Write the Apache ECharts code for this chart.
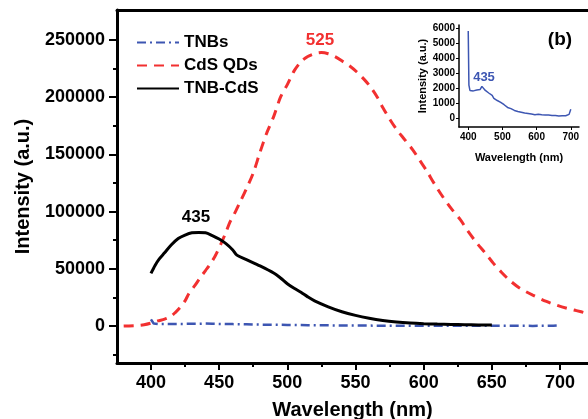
<!DOCTYPE html>
<html>
<head>
<meta charset="utf-8">
<script src="https://cdn.jsdelivr.net/npm/echarts@6/dist/echarts.min.js"></script>
<style>
  html, body { margin: 0; padding: 0; background: #fff; }
  #chart { width: 588px; height: 419px; }
</style>
</head>
<body>
<div id="chart"></div>
<script>
// TNBs (also shown in the inset)
const tnbWave = [400, 402, 405, 410, 415, 420, 425, 430, 435, 440, 445, 450, 455, 460, 465, 470, 475, 480, 485, 490,
  495, 500, 505, 510, 515, 520, 525, 530, 535, 540, 545, 550, 555, 560, 565, 570, 575, 580, 585, 590,
  595, 600, 605, 610, 615, 620, 625, 630, 635, 640, 645, 650, 655, 660, 665, 670, 675, 680, 685, 690, 695, 700]
const tnbIntensity = [5800, 2200, 1850, 1880, 1820, 1900, 1880, 1950, 1920, 2120, 2000, 1850, 1750, 1680, 1600, 1520, 1330, 1250, 1180, 1100,
  1060, 980, 900, 820, 720, 680, 640, 590, 520, 480, 450, 420, 400, 370, 350, 330, 320, 290, 280, 250,
  240, 230, 260, 210, 230, 200, 220, 190, 210, 170, 190, 160, 180, 170, 150, 180, 160, 130, 170, 150, 260, 600]

// CdS QDs
const cdsWave = [380, 390, 395, 400, 405, 410, 414, 418, 421, 425, 428, 432, 436, 440, 443, 447, 451, 455, 458, 462,
  465, 470, 475, 480, 485, 490, 495, 500, 505, 510, 515, 520, 525, 530, 535, 541, 546, 551, 556, 561,
  566, 570, 575, 580, 586, 592, 597, 602, 608, 614, 620, 627, 633, 639, 645, 651, 657, 663, 670, 680,
  690, 698, 705, 712, 720]
const cdsIntensity = [0, 500, 1200, 2600, 4500, 6000, 8000, 12000, 15700, 22000, 28800, 35000, 42000, 48500, 53300, 61000, 71000, 82000, 91000, 100000,
  107500, 120000, 133700, 152000, 169000, 183000, 200000, 211000, 223000, 231000, 235500, 238000, 239000, 238000, 235500, 231000, 227000, 222000, 216000, 209000,
  200000, 191000, 181000, 172000, 163000, 154000, 145000, 136000, 124000, 113000, 103000, 92700, 82000, 72500, 64000, 55000, 47000, 40000, 33500, 27000,
  21500, 18000, 15500, 13500, 11000]

// TNB-CdS
const hybridWave = [400, 403, 406, 410, 415, 420, 425, 430, 435, 440, 445, 450, 455, 460, 463, 470, 480, 490, 495, 500,
  505, 510, 515, 520, 530, 540, 550, 560, 570, 580, 590, 600, 610, 620, 630, 640, 650]
const hybridIntensity = [46000, 53000, 58500, 64000, 71000, 76500, 79500, 81500, 81800, 81500, 79000, 76000, 72000, 66500, 62000, 58000, 52500, 46300, 42000, 37000,
  33000, 29500, 25500, 22000, 16800, 12500, 9300, 6800, 4900, 3600, 2700, 2100, 1700, 1400, 1200, 1000, 900]

// tick labels
const xTicks = [400, 450, 500, 550, 600, 650, 700]
const xMinorTicks = [425, 475, 525, 575, 625, 675]
const yTicks = [0, 50000, 100000, 150000, 200000, 250000]
const yMinorTicks = [-25000, 25000, 75000, 125000, 175000, 225000]
const insetXTicks = [400, 500, 600, 700]
const insetYTicks = [0, 1000, 2000, 3000, 4000, 5000, 6000]

const pairs = (xs, ys) => xs.map((x, i) => [x, ys[i]])
const plain = (v) => String(v)

const font = "'Liberation Sans', Arial, sans-serif"
const blue = '#3d56b2'
const red = '#f23030'
const clear = 'rgba(0,0,0,0)'
const xRange = { min: 375.1, max: 720.5 }
const yRange = { min: -32300, max: 276200 }

const chart = echarts.init(document.getElementById('chart'))

const mainRect = { left: 117, right: 0, top: 10, bottom: 56, outerBoundsMode: 'none', containLabel: false }

const option = {
  animation: false,
  backgroundColor: '#fff',
  grid: [
    mainRect,
    { left: 459, width: 120, top: 25, height: 102, outerBoundsMode: 'none', containLabel: false },
    //次刻度用，与主图重合
    { ...mainRect },
  ],
  xAxis: [
    { gridIndex: 0, type: 'value', ...xRange, position: 'bottom',
      axisLine: { onZero: false, lineStyle: { color: '#000', width: 3 } },
      axisTick: { customValues: xTicks, length: 7, lineStyle: { color: '#000', width: 2 } },
      axisLabel: { customValues: xTicks, formatter: plain, margin: 11, color: '#000', fontSize: 18, fontWeight: 'bold', fontFamily: font },
      splitLine: { show: false },
      name: 'Wavelength (nm)', nameLocation: 'middle', nameGap: 37,
      nameTextStyle: { color: '#000', fontSize: 20, fontWeight: 'bold', fontFamily: font } },
    //上边框
    { gridIndex: 0, type: 'value', ...xRange, position: 'top',
      axisLine: { onZero: false, lineStyle: { color: '#000', width: 3 } },
      axisTick: { show: false }, axisLabel: { show: false }, splitLine: { show: false } },
    //插图
    { gridIndex: 1, type: 'value', min: 373, max: 724,
      axisLine: { onZero: false, lineStyle: { color: '#000', width: 1.5 } },
      axisTick: { customValues: insetXTicks, length: 3, lineStyle: { color: '#000', width: 1 } },
      axisLabel: { customValues: insetXTicks, formatter: plain, margin: 5, color: '#000', fontSize: 10, fontWeight: 'bold', fontFamily: font },
      splitLine: { show: false },
      name: 'Wavelength (nm)', nameLocation: 'middle', nameGap: 25,
      nameTextStyle: { color: '#000', fontSize: 11, fontWeight: 'bold', fontFamily: font } },
    //次刻度
    { gridIndex: 2, type: 'value', ...xRange, position: 'bottom',
      axisLine: { show: false, onZero: false }, axisLabel: { show: false }, splitLine: { show: false },
      axisTick: { show: true, customValues: xMinorTicks, length: 4, lineStyle: { color: '#000', width: 2 } } },
  ],
  yAxis: [
    { gridIndex: 0, type: 'value', ...yRange, position: 'left',
      axisLine: { onZero: false, lineStyle: { color: '#000', width: 3 } },
      axisTick: { customValues: yTicks, length: 8, lineStyle: { color: '#000', width: 2 } },
      axisLabel: { customValues: yTicks, formatter: plain, margin: 12, color: '#000', fontSize: 18, fontWeight: 'bold', fontFamily: font },
      splitLine: { show: false },
      name: 'Intensity (a.u.)', nameLocation: 'middle', nameGap: 84,
      nameTextStyle: { color: '#000', fontSize: 20, fontWeight: 'bold', fontFamily: font } },
    { gridIndex: 1, type: 'value', min: -580, max: 6200,
      axisLine: { onZero: false, lineStyle: { color: '#000', width: 1.5 } },
      axisTick: { customValues: insetYTicks, length: 3, lineStyle: { color: '#000', width: 1 } },
      axisLabel: { customValues: insetYTicks, formatter: plain, margin: 4, color: '#000', fontSize: 10, fontWeight: 'bold', fontFamily: font },
      splitLine: { show: false },
      name: 'Intensity (a.u.)', nameLocation: 'middle', nameGap: 31,
      nameTextStyle: { color: '#000', fontSize: 11, fontWeight: 'bold', fontFamily: font } },
    { gridIndex: 2, type: 'value', ...yRange, position: 'left',
      axisLine: { show: false, onZero: false }, axisLabel: { show: false }, splitLine: { show: false },
      axisTick: { show: true, customValues: yMinorTicks, length: 4, lineStyle: { color: '#000', width: 2 } } },
  ],
  legend: {
    left: 131, top: 29, orient: 'vertical', itemGap: 6, itemWidth: 42, itemHeight: 16,
    textStyle: { color: '#000', fontSize: 17, fontWeight: 'bold', fontFamily: font },
    data: ['TNBs', 'CdS QDs', 'TNB-CdS'],
  },
  series: [
    { name: 'TNBs', type: 'line', xAxisIndex: 0, yAxisIndex: 0, symbol: 'none',
      data: pairs(tnbWave, tnbIntensity),
      lineStyle: { color: blue, width: 2.5, type: [9, 4, 2, 4] }, itemStyle: { color: clear } },
    { name: 'CdS QDs', type: 'line', xAxisIndex: 0, yAxisIndex: 0, symbol: 'none', smooth: 0.3,
      data: pairs(cdsWave, cdsIntensity),
      lineStyle: { color: red, width: 3, type: [10, 7] }, itemStyle: { color: clear } },
    { name: 'TNB-CdS', type: 'line', xAxisIndex: 0, yAxisIndex: 0, symbol: 'none', smooth: 0.3,
      data: pairs(hybridWave, hybridIntensity),
      lineStyle: { color: '#000', width: 3 }, itemStyle: { color: clear } },
    { name: 'inset', type: 'line', xAxisIndex: 2, yAxisIndex: 1, symbol: 'none',
      data: pairs(tnbWave, tnbIntensity),
      lineStyle: { color: blue, width: 1.5 } },
  ],
  graphic: [
    { type: 'text', x: 196, y: 217, style: { text: '435', fill: '#000', font: 'bold 17px ' + font, align: 'center', verticalAlign: 'middle' } },
    { type: 'text', x: 320, y: 40, style: { text: '525', fill: red, font: 'bold 17px ' + font, align: 'center', verticalAlign: 'middle' } },
    { type: 'text', x: 484, y: 77, style: { text: '435', fill: blue, font: 'bold 13px ' + font, align: 'center', verticalAlign: 'middle' } },
    { type: 'text', x: 560, y: 40, style: { text: '(b)', fill: '#000', font: 'bold 19px ' + font, align: 'center', verticalAlign: 'middle' } },
  ],
}

chart.setOption(option)
</script>
</body>
</html>
